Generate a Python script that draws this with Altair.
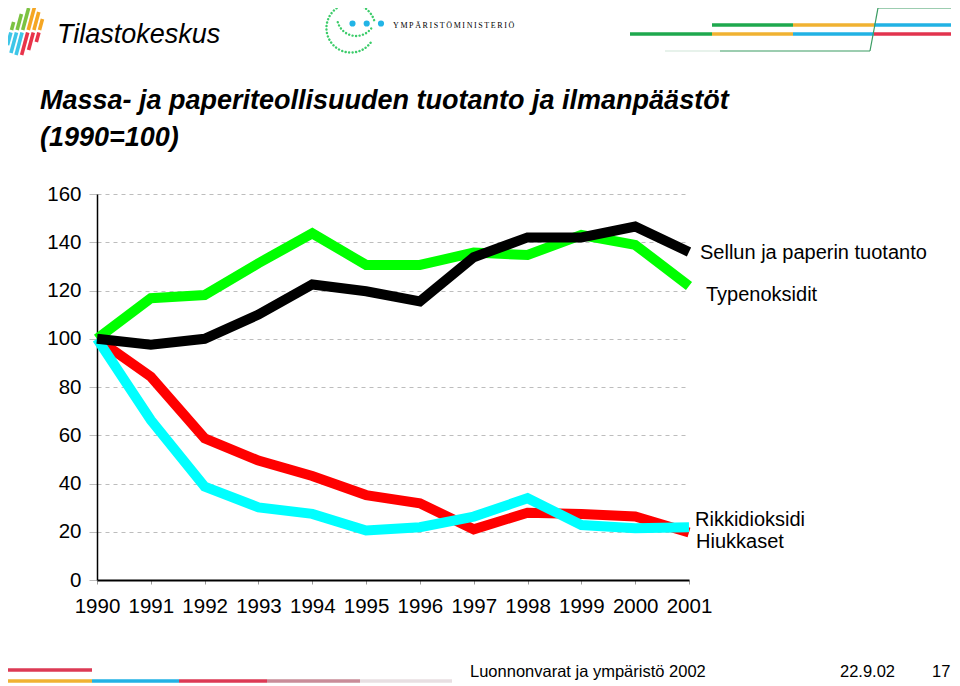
import altair as alt
import pandas as pd

# ---------------- data ----------------
years = list(range(1990, 2002))
tuotanto = [100, 97.5, 100, 110, 122.5, 119.7, 115.5, 133.8, 142, 142, 146.5, 136]
typenoksidit = [100, 116.8, 118.1, 131.3, 143.7, 130.6, 130.6, 135.7, 134.7, 143, 138.9, 121.9]
rikkidioksidi = [100, 84.3, 58.7, 49.5, 43.1, 35.2, 31.8, 21.0, 27.9, 27.4, 26.3, 19.7]
hiukkaset = [100, 66.3, 38.7, 30.1, 27.4, 20.5, 21.9, 26.3, 33.9, 22.8, 21.5, 21.9]

series_names = ["Rikkidioksidi", "Hiukkaset", "Typenoksidit", "Sellun ja paperin tuotanto"]
series_values = [rikkidioksidi, hiukkaset, typenoksidit, tuotanto]
series_colors = ["#FF0000", "#00FFFF", "#00FF00", "#000000"]

label_texts = ["Sellun ja paperin tuotanto", "Typenoksidit", "Rikkidioksidi", "Hiukkaset"]
label_values = [132.9, 115.8, 22.2, 13.2]
label_dx = [11, 17, 6, 7]

y_ticks = [0, 20, 40, 60, 80, 100, 120, 140, 160]

title_lines = ["Massa- ja paperiteollisuuden tuotanto ja ilmanpäästöt", "(1990=100)"]
footer_text = "Luonnonvarat ja ympäristö 2002"
footer_date = "22.9.02"
footer_page = "17"
logo_text = "Tilastokeskus"
ministry_text = "YMPÄRISTÖMINISTERIÖ"

SANS = "Liberation Sans, Arial, sans-serif"
OX, OY = 97, 194  # page position of the plot origin


def px(x):
    return x - OX


def py(y):
    return y - OY


one = alt.Data(values=[{}])

x_enc = alt.X(
    "year:Q",
    scale=alt.Scale(domain=[1990, 2001], nice=False, zero=False),
    axis=alt.Axis(
        values=years, format="d", title=None, grid=False,
        domainColor="#000000", domainWidth=2, tickColor="#999999", tickSize=4,
        labelFont=SANS, labelFontSize=20.5, labelColor="#000000", labelPadding=12,
        labelFlush=False, labelOverlap=False,
    ),
)
y_enc = alt.Y(
    "value:Q",
    scale=alt.Scale(domain=[0, 160], nice=False),
    axis=alt.Axis(
        values=y_ticks, title=None, grid=True, gridColor="#bdbdbd", gridDash=[4, 4],
        gridWidth=1, domainColor="#000000", domainWidth=1.5, tickColor="#bdbdbd",
        tickSize=8, labelFont=SANS, labelFontSize=20.5, labelColor="#000000",
        labelPadding=8, labelFlush=False, labelOverlap=False,
    ),
)

layers = []

# ---------------- decorations ----------------
def seg(x1, y1, x2, y2, color, w, opacity=1.0):
    return alt.Chart(one).mark_rule(color=color, strokeWidth=w, opacity=opacity, strokeCap="butt").encode(
        x=alt.value(px(x1)), x2=alt.value(px(x2)), y=alt.value(py(y1)), y2=alt.value(py(y2))
    )

def txt(s, x, y, size, font=SANS, style="normal", weight="normal", align="left", color="#000000"):
    return alt.Chart(one).mark_text(
        text=s, align=align, baseline="alphabetic", font=font, fontSize=size,
        fontStyle=style, fontWeight=weight, color=color,
    ).encode(x=alt.value(px(x)), y=alt.value(py(y)))

# Tilastokeskus logo bars
up_cols = ["#7cc242", "#7cc242", "#7cc242", "#f5a623", "#f5a623", "#f5a623"]
up_tops = [22, 14, 8, 7, 12, 19]
lo_cols = ["#3ec6e8", "#3ec6e8", "#3ec6e8", "#e8334a", "#e8334a", "#e8334a"]
lo_bots = [45, 53, 55, 55, 50, 42]
for i in range(6):
    bx = 11.5 + 5.6 * i
    layers.append(seg(bx, 30, bx + 0.27 * (30 - up_tops[i]), up_tops[i], up_cols[i], 3.6))
    tx = 11.5 + 5.6 * i - 0.6
    layers.append(seg(tx, 32.5, tx - 0.27 * (lo_bots[i] - 32.5), lo_bots[i], lo_cols[i], 3.6))

layers.append(txt(logo_text, 57, 43, 27, style="italic"))

# ministry logo
layers.append(
    alt.Chart(one).mark_point(
        shape="M 0.8 0.6 A 1 1 0 1 1 0.95 -0.3", size=2400, filled=False,
        stroke="#3ccc6a", strokeWidth=2.4, strokeDash=[0.1, 3.4], strokeCap="round", opacity=1,
    ).encode(x=alt.value(px(351)), y=alt.value(py(28)))
)
layers.append(
    alt.Chart(one).mark_point(
        shape="M -0.96 0.27 A 1 1 0 0 0 0.8 0.6", size=1444, filled=False,
        stroke="#3ccc6a", strokeWidth=2.4, strokeDash=[0.1, 3.4], strokeCap="round", opacity=1,
    ).encode(x=alt.value(px(356)), y=alt.value(py(17)))
)
for dxp in [352.5, 366.7, 381]:
    layers.append(
        alt.Chart(one).mark_point(shape="circle", size=38, filled=True, color="#22b4e6", opacity=1).encode(
            x=alt.value(px(dxp)), y=alt.value(py(23.5))
        )
    )
layers.append(txt("\u2009".join(ministry_text), 393, 27.5, 8, font="Liberation Serif"))

# top right stripes
G, O, B, R = "#1ea84e", "#f0b232", "#22b2e4", "#e2334e"
for (x1, x2, c) in [(712, 793, G), (793, 874, O), (874, 951, B)]:
    layers.append(seg(x1, 25, x2, 25, c, 3.5))
for (x1, x2, c) in [(630, 712, G), (712, 793, O), (793, 874, B), (874, 951, R)]:
    layers.append(seg(x1, 34, x2, 34, c, 3.5))
layers.append(seg(665, 51, 720, 51, "#cfe6d7", 1.2))
layers.append(seg(720, 51, 870, 51, "#3a9c62", 1.2))
layers.append(seg(870, 51, 878, 8, "#3a9c62", 1.2))
layers.append(seg(878, 8, 951, 8, "#3a9c62", 1.2))

# footer stripes
layers.append(seg(3, 670, 92, 670, "#dc3a55", 3.5))
for (x1, x2, c) in [(3, 92, "#f0b232"), (92, 179, "#22b2e4"), (179, 267, "#dc3a55"),
                    (267, 360, "#c98c99"), (360, 452, "#e8dfe2")]:
    layers.append(seg(x1, 681, x2, 681, c, 3.5))

layers.append(txt(footer_text, 470, 677, 16.5))
layers.append(txt(footer_date, 840, 677, 16.5))
layers.append(txt(footer_page, 932, 677, 16.5))

# title
layers.append(txt(title_lines[0], 40, 109, 27, style="italic", weight="bold"))
layers.append(txt(title_lines[1], 40, 146, 27, style="italic", weight="bold"))

# ---------------- data lines ----------------
for name, vals, col in zip(series_names, series_values, series_colors):
    df = pd.DataFrame({"year": years, "value": vals, "series": name})
    layers.append(
        alt.Chart(df).mark_line(color=col, strokeWidth=10, strokeJoin="miter", strokeCap="butt").encode(
            x=x_enc, y=y_enc
        )
    )

# line labels
for t, v, d in zip(label_texts, label_values, label_dx):
    dfl = pd.DataFrame({"year": [2001], "value": [v], "label": [t]})
    layers.append(
        alt.Chart(dfl).mark_text(align="left", baseline="alphabetic", dx=d, font=SANS,
                                 fontSize=20, color="#000000").encode(x=x_enc, y=y_enc, text="label:N")
    )

chart = alt.layer(*layers).properties(
    width=592,
    height=386,
    padding={"left": 89, "top": 186, "right": 263, "bottom": 104},
    autosize=alt.AutoSizeParams(type="none"),
    background="#ffffff",
).configure_view(stroke=None)

chart.save("out.html", embed_options={"renderer": "svg", "actions": False})
